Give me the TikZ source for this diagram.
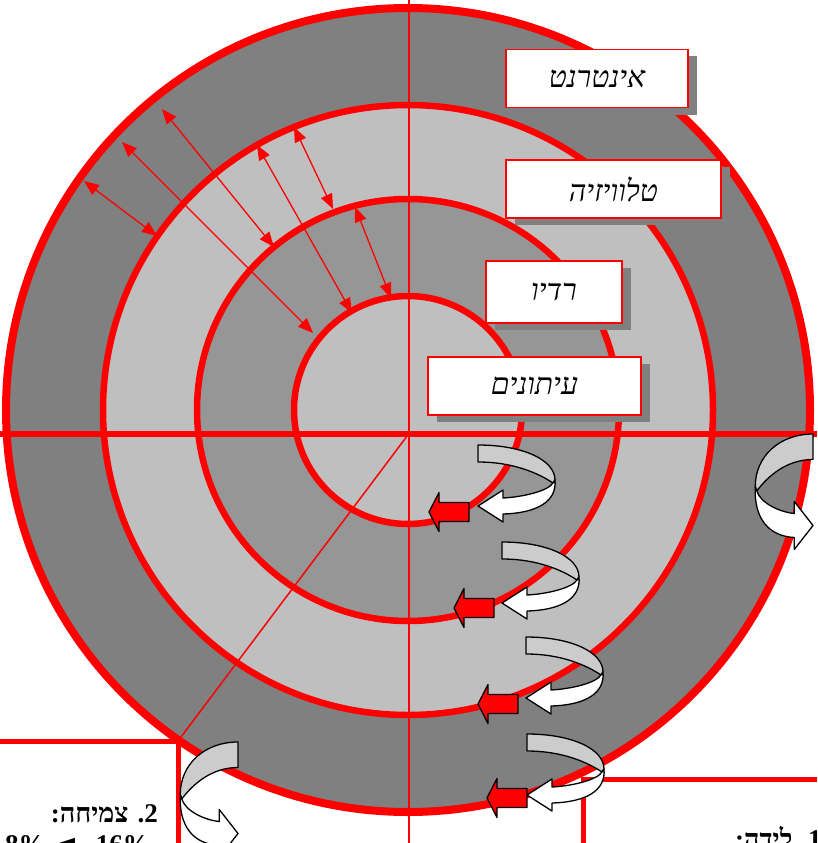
\documentclass[tikz,border=0pt]{standalone}
\usepackage{fontspec}
\usepackage{tikz}
\usetikzlibrary{arrows.meta, positioning, shadows}
\newfontfamily\hebfont[Script=Hebrew]{Liberation Serif}
\newfontfamily\symfont{DejaVu Sans}
\TeXXeTstate=1

\tikzset{
    curl/.pic={
        \draw[curlline, fill=black!20] (0,0) .. controls (45,0) and (77,15) .. (77,35)
            -- (75,38) .. controls (60,28) and (35,17) .. (0,17) -- cycle;
        \draw[curlline, fill=white] (77,35) .. controls (79,56) and (60,68) .. (25,69)
            -- (25,77) -- (0,61) -- (25,45) -- (25,53)
            .. controls (45,52) and (70,46) .. (75,38) -- cycle;
    },
    push/.pic={
        \draw[curlline, fill=red] (0,0) -- (10,-19.5) -- (10,-9.5) -- (40,-9.5)
            -- (40,9.5) -- (10,9.5) -- (10,19.5) -- cycle;
    }
}

\begin{document}
\begin{tikzpicture}[x=1pt, y=-1pt,
    ring/.style={draw=red, line width=6.5pt},
    medium/.style={draw=red, line width=1.2pt, fill=white, minimum height=58pt,
                   inner sep=0pt, font=\hebfont\itshape\fontsize{30}{36}\selectfont,
                   drop shadow={shadow xshift=9pt, shadow yshift=-7pt, fill=black!50, opacity=1}},
    span/.style={red, line width=1.3pt,
                 {Triangle[length=15pt,width=12pt]}-{Triangle[length=15pt,width=12pt]}},
    stage/.style={inner sep=0pt, font=\hebfont\bfseries\fontsize{27}{32}\selectfont},
    curlline/.style={draw=black, line width=1.3pt, line join=round},
    frame/.style={red, line width=5pt}
]
\useasboundingbox (0,0) rectangle (817,843);

\coordinate (c) at (408,410);
\draw[ring, line width=8pt, fill=black!50] (c) circle[radius=402];
\draw[ring, fill=black!25] (c) circle[radius=305];
\draw[ring, fill=black!41] (c) circle[radius=211];
\draw[ring, fill=black!25] (c) circle[radius=114];

\coordinate (north) at (409,0);
\coordinate (south) at (409,843);
\coordinate (west) at (0,433.5);
\coordinate (east) at (817,433.5);
\coordinate (hub) at (409,433.5);
\coordinate (corner) at (178,741);
\draw[red, line width=1.5pt] (north) -- (south);
\draw[red, line width=6pt] (west) -- (east);
\draw[red, line width=1.5pt] (hub) -- (corner);

\coordinate (out1) at (84,181);   \coordinate (mid1) at (157,236);
\coordinate (out2) at (122,142);  \coordinate (core1) at (313,333);
\coordinate (out3) at (162,109);  \coordinate (inn1) at (274,247);
\coordinate (mid2) at (257,145);  \coordinate (core2) at (352,313);
\coordinate (mid3) at (294,127);  \coordinate (inn2) at (333,209);
\coordinate (inn3) at (355,207);  \coordinate (core3) at (391,298);
\draw[span] (out1) -- (mid1);
\draw[span] (out2) -- (core1);
\draw[span] (out3) -- (inn1);
\draw[span] (mid2) -- (core2);
\draw[span] (mid3) -- (inn2);
\draw[span] (inn3) -- (core3);

\node[medium, minimum width=182pt] (net) at (597,78.5) {\beginR אינטרנט\endR};
\node[medium, minimum width=215pt] (tv) at (613.5,189) {\beginR טלוויזיה\endR};
\node[medium, minimum width=136pt, minimum height=62pt] (radio) at (554,292) {\beginR רדיו\endR};
\node[medium, minimum width=213pt] (press) at (534.5,386) {\beginR עיתונים\endR};

\coordinate (gl) at (0,741);
\coordinate (gb) at (178,843);
\coordinate (br) at (817,779);
\coordinate (bb) at (583,843);
\draw[frame] (gl) -| (gb);
\draw[frame] (br) -| (bb);

\node[stage, anchor=base east] (growth) at (158,822) {\beginR 2. צמיחה:\endR};
\node[stage, anchor=base east] (rate) at (150,853) {8\% {\symfont\mdseries\fontsize{30}{32}\selectfont ◄}– 16\%};
\node[stage, anchor=base west] (birth) at (735,848) {\beginR 1. לידה:\endR};

\pic at (478,445) {curl};  \pic at (429,512) {push};
\pic at (502,542) {curl};  \pic at (454,608) {push};
\pic at (526,637) {curl};  \pic at (478,704) {push};
\pic at (527,734) {curl};  \pic at (487,798) {push};
\pic[xscale=-0.75, yscale=1.5] at (813,434) {curl};
\pic[xscale=-0.75, yscale=1.5] at (238,742) {curl};
\end{tikzpicture}
\end{document}
